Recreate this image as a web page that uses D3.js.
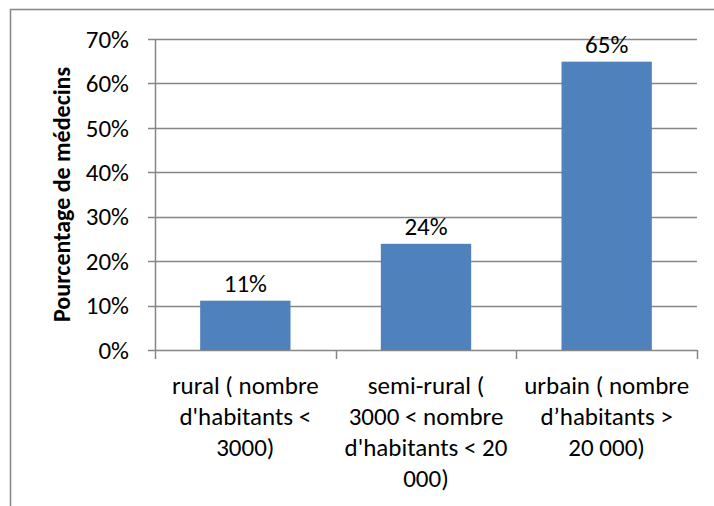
<!DOCTYPE html>
<html>
<head>
<meta charset="utf-8">
<script src="https://cdn.jsdelivr.net/npm/d3@7"></script>
<style>
  body { margin: 0; background: #fff; }
  text { font-family: Carlito, Calibri, Lato, sans-serif; fill: #000; }
</style>
</head>
<body>
<svg width="714" height="506"></svg>
<script>
// chart data
var categories = ['rural', 'semi-rural', 'urbain'];
var catLines = [
    ['rural ( nombre', "d'habitants <", '3000)'],
    ['semi-rural (', '3000 < nombre', "d'habitants < 20", '000)'],
    ['urbain ( nombre', 'd\u2019habitants >', '20 000)']
];
var values = [11.1, 23.9, 64.9];
var yTicks = [0, 10, 20, 30, 40, 50, 60, 70];
var yTitle = 'Pourcentage de médecins';

var svg = d3.select('svg');
var margin = {left: 155, right: 17, top: 39, bottom: 156};
var width = 714 - margin.left - margin.right,
    height = 506 - margin.top - margin.bottom;

var gridColor = '#868686';
var fs = '25px';

// chart frame (right/bottom edges fall outside the picture)
svg.append('rect')
    .attr('x', 10.5).attr('y', 9.5)
    .attr('width', 760).attr('height', 560)
    .attr('fill', 'none')
    .attr('stroke', gridColor)
    .attr('stroke-width', 1.5);

var g = svg.append('g')
    .attr('transform', 'translate(' + margin.left + ',' + margin.top + ')');

var x = d3.scaleBand().domain(categories).range([0, width]).paddingInner(0.5).paddingOuter(0.25);
var y = d3.scaleLinear().domain([0, 70]).range([height, 0]);

// gridlines + y ticks
g.append('g').selectAll('line')
    .data(yTicks)
    .enter().append('line')
    .attr('x1', -7).attr('x2', width)
    .attr('y1', function(d) { return Math.round(y(d)) + 0.5; })
    .attr('y2', function(d) { return Math.round(y(d)) + 0.5; })
    .attr('stroke', gridColor)
    .attr('stroke-width', 1.5);

g.append('g').selectAll('text')
    .data(yTicks)
    .enter().append('text')
    .attr('x', -26)
    .attr('y', function(d) { return y(d); })
    .attr('dy', '0.35em')
    .attr('text-anchor', 'end')
    .style('font-size', fs)
    .text(function(d) { return d + '%'; });

// bars
g.append('g').selectAll('rect')
    .data(values)
    .enter().append('rect')
    .attr('x', function(d, i) { return x(categories[i]); })
    .attr('width', x.bandwidth())
    .attr('y', function(d) { return y(d); })
    .attr('height', function(d) { return height - y(d); })
    .attr('fill', '#4F81BD');

// value labels
g.append('g').selectAll('text')
    .data(values)
    .enter().append('text')
    .attr('x', function(d, i) { return x(categories[i]) + x.bandwidth() / 2; })
    .attr('y', function(d) { return y(d) - 9; })
    .attr('text-anchor', 'middle')
    .style('font-size', fs)
    .text(function(d) { return Math.round(d) + '%'; });

// axes lines
g.append('line')
    .attr('x1', 0.5).attr('x2', 0.5)
    .attr('y1', 0).attr('y2', height)
    .attr('stroke', gridColor).attr('stroke-width', 1.5);

var step = width / categories.length;
g.append('g').selectAll('line')
    .data(d3.range(categories.length + 1))
    .enter().append('line')
    .attr('x1', function(i) { return Math.round(i * step) + 0.5; })
    .attr('x2', function(i) { return Math.round(i * step) + 0.5; })
    .attr('y1', height).attr('y2', height + 9)
    .attr('stroke', gridColor).attr('stroke-width', 1.5);

// category labels
var cat = g.append('g').selectAll('text')
    .data(catLines)
    .enter().append('text')
    .attr('text-anchor', 'middle')
    .style('font-size', fs);

cat.selectAll('tspan')
    .data(function(d, i) { return d.map(function(s) { return {s: s, i: i}; }); })
    .enter().append('tspan')
    .attr('x', function(d) { return x(categories[d.i]) + x.bandwidth() / 2; })
    .attr('y', function(d, j) { return height + 44 + j * 31; })
    .text(function(d) { return d.s; });

// y title
svg.append('text')
    .attr('transform', 'translate(70,' + (margin.top + height / 2) + ') rotate(-90)')
    .attr('text-anchor', 'middle')
    .style('font-size', '24px')
    .style('font-weight', 'bold')
    .text(yTitle);
</script>
</body>
</html>
